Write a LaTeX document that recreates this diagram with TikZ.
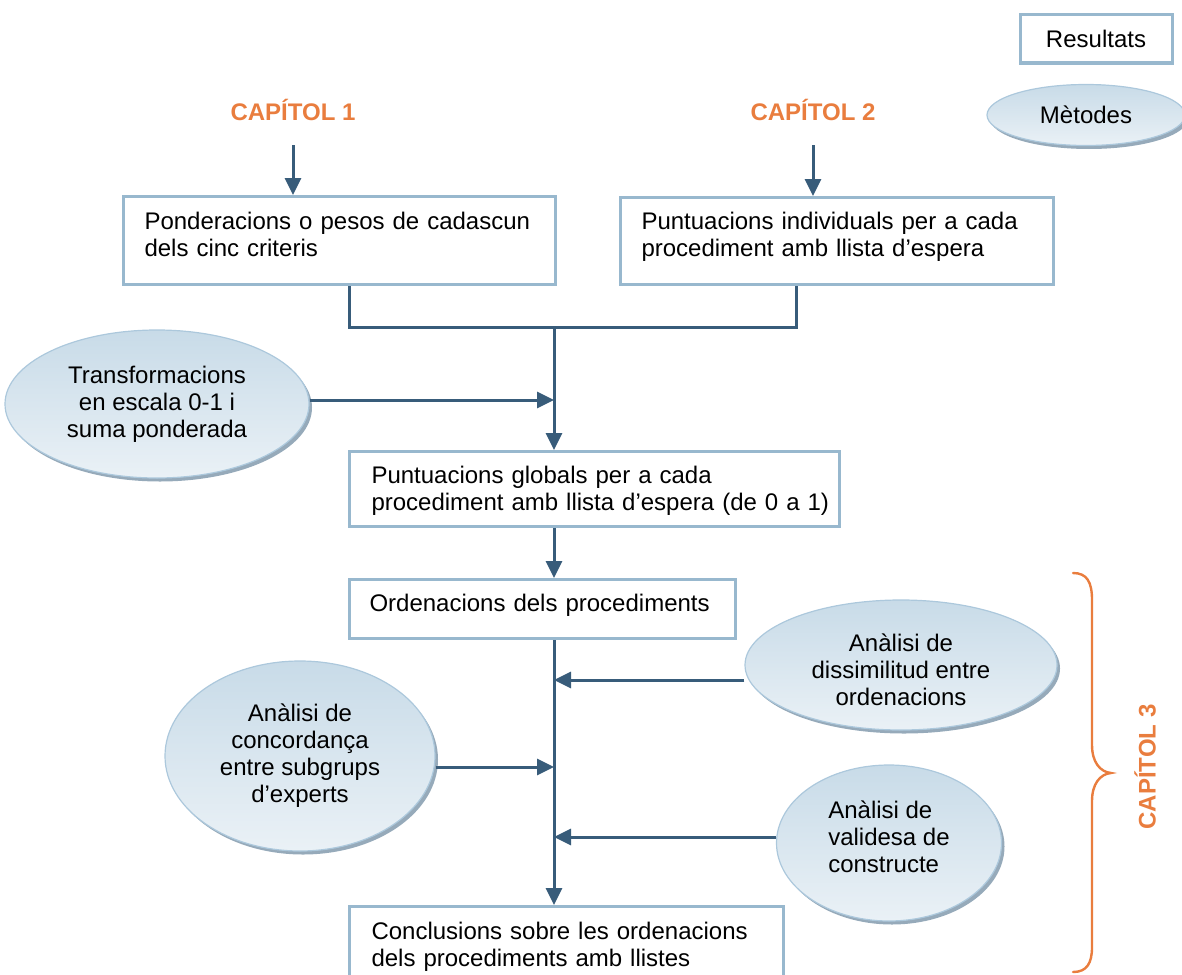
\documentclass[tikz,border=0pt]{standalone}
\usepackage{fontspec}
\setmainfont{Liberation Sans}
\usetikzlibrary{arrows.meta,shapes.geometric,shadows,calc}
\definecolor{connc}{RGB}{56,92,122}
\definecolor{boxc}{RGB}{152,184,206}
\definecolor{ellborder}{RGB}{172,200,220}
\definecolor{elltop}{RGB}{200,219,232}
\definecolor{ellbot}{RGB}{234,241,246}
\definecolor{ellshadow}{RGB}{150,170,186}
\definecolor{chapc}{RGB}{233,125,62}
\begin{document}
\begin{tikzpicture}[x=1pt,y=-1pt,
  font=\fontsize{24}{27}\selectfont,
  box/.style={draw=boxc, line width=3pt, fill=white, inner ysep=0pt, align=left, anchor=north west},
  ell/.style={ellipse, draw=ellborder, line width=1.2pt, top color=elltop, bottom color=ellbot,
    inner sep=0pt, align=center,
    copy shadow={shadow xshift=3pt, shadow yshift=-3.5pt, fill=ellshadow, draw=none}},
  conn/.style={draw=connc, line width=3pt},
  arr/.style={conn, -{Triangle[length=17pt,width=16pt]}},
  chap/.style={text=chapc, font=\fontsize{24}{27}\selectfont\bfseries, inner sep=0pt},
  brace/.style={draw=chapc, line width=2.4pt, line cap=round}]
\useasboundingbox (0,0) rectangle (1182,974);
\clip (0,0) rectangle (1182,974);

% legend
\node[box, anchor=center, align=center, minimum width=152pt, minimum height=48pt, inner sep=0pt] (res) at (1096,39) {Resultats};
\node[ell, minimum width=198pt, minimum height=61pt] (met) at (1086,115) {Mètodes};

% chapter headings
\node[chap] (cap1) at (293,110) {CAPÍTOL 1};
\node[chap] (cap2) at (813,110) {CAPÍTOL 2};
\node[chap, rotate=90] (cap3) at (1145,767) {CAPÍTOL 3};

% result boxes
\node[box, text width=390pt, inner xsep=21pt, text height=33pt, text depth=55pt] (pond) at (122,195)
  {\mbox{Ponderacions o pesos de cadascun}\\\mbox{dels cinc criteris}};
\node[box, text width=391pt, inner xsep=21pt, text height=32pt, text depth=55pt] (indiv) at (619,196)
  {\mbox{Puntuacions individuals per a cada}\\\mbox{procediment amb llista d’espera}};
\node[box, text width=446pt, inner xsep=22pt, text height=32pt, text depth=43pt] (glob) at (348,450)
  {\mbox{Puntuacions globals per a cada}\\\mbox{procediment amb llista d’espera (de 0 a 1)}};
\node[box, text width=346pt, inner xsep=20pt, text height=32pt, text depth=27pt] (orden) at (348,578)
  {\mbox{Ordenacions dels procediments}};
\node[box, text width=390pt, inner xsep=22pt, text height=33pt, text depth=70pt] (concl) at (348,905)
  {\mbox{Conclusions sobre les ordenacions}\\\mbox{dels procediments amb llistes}};

% method ellipses
\node[ell, minimum width=304pt, minimum height=148pt] (trans) at (157,404)
  {Transformacions\\en escala 0-1 i\\suma ponderada};
\node[ell, minimum width=312pt, minimum height=130pt] (diss) at (901,665)
  {\rule{0pt}{28pt}Anàlisi de\\dissimilitud entre\\ordenacions};
\node[ell, minimum width=270pt, minimum height=190pt] (conc) at (300,756)
  {Anàlisi de\\concordança\\entre subgrups\\d’experts};
\node[ell, align=left, minimum width=225pt, minimum height=156pt] (valid) at (889,843)
  {Anàlisi de\\validesa de\\constructe\rule[-12pt]{0pt}{0pt}};

% connectors
\coordinate (jn) at (554,327);
\draw[arr] ([yshift=-35pt]cap1.center) -- (cap1.center |- pond.north);
\draw[arr] ([yshift=-35pt]cap2.center) -- (cap2.center |- indiv.north);
\draw[conn] ([xshift=10pt]pond.south) |- (jn) -| ([xshift=-40.5pt]indiv.south);
\draw[arr] (jn) -- (jn |- glob.north);
\draw[arr] ([yshift=4pt]trans.east) -- ([yshift=4pt]trans.east -| jn);
\draw[arr] (jn |- glob.south) -- (jn |- orden.north);
\draw[arr] (jn |- orden.south) -- (jn |- concl.north);
\draw[arr] ([yshift=-15pt]diss.west) -- ([yshift=-15pt]diss.west -| jn);
\draw[arr] ([yshift=-11pt]conc.east) -- ([yshift=-11pt]conc.east -| jn);
\draw[arr] ([yshift=6pt]valid.west) -- ([yshift=6pt]valid.west -| jn);

% brace grouping the third chapter
\draw[brace] (1073,573) .. controls (1087,573) and (1092,582) .. (1092,600)
  -- (1092,745) .. controls (1092,762) and (1100,772) .. (1111,773)
  .. controls (1100,774) and (1092,784) .. (1092,801)
  -- (1092,947) .. controls (1092,963) and (1087,972) .. (1073,972);
\end{tikzpicture}
\end{document}
